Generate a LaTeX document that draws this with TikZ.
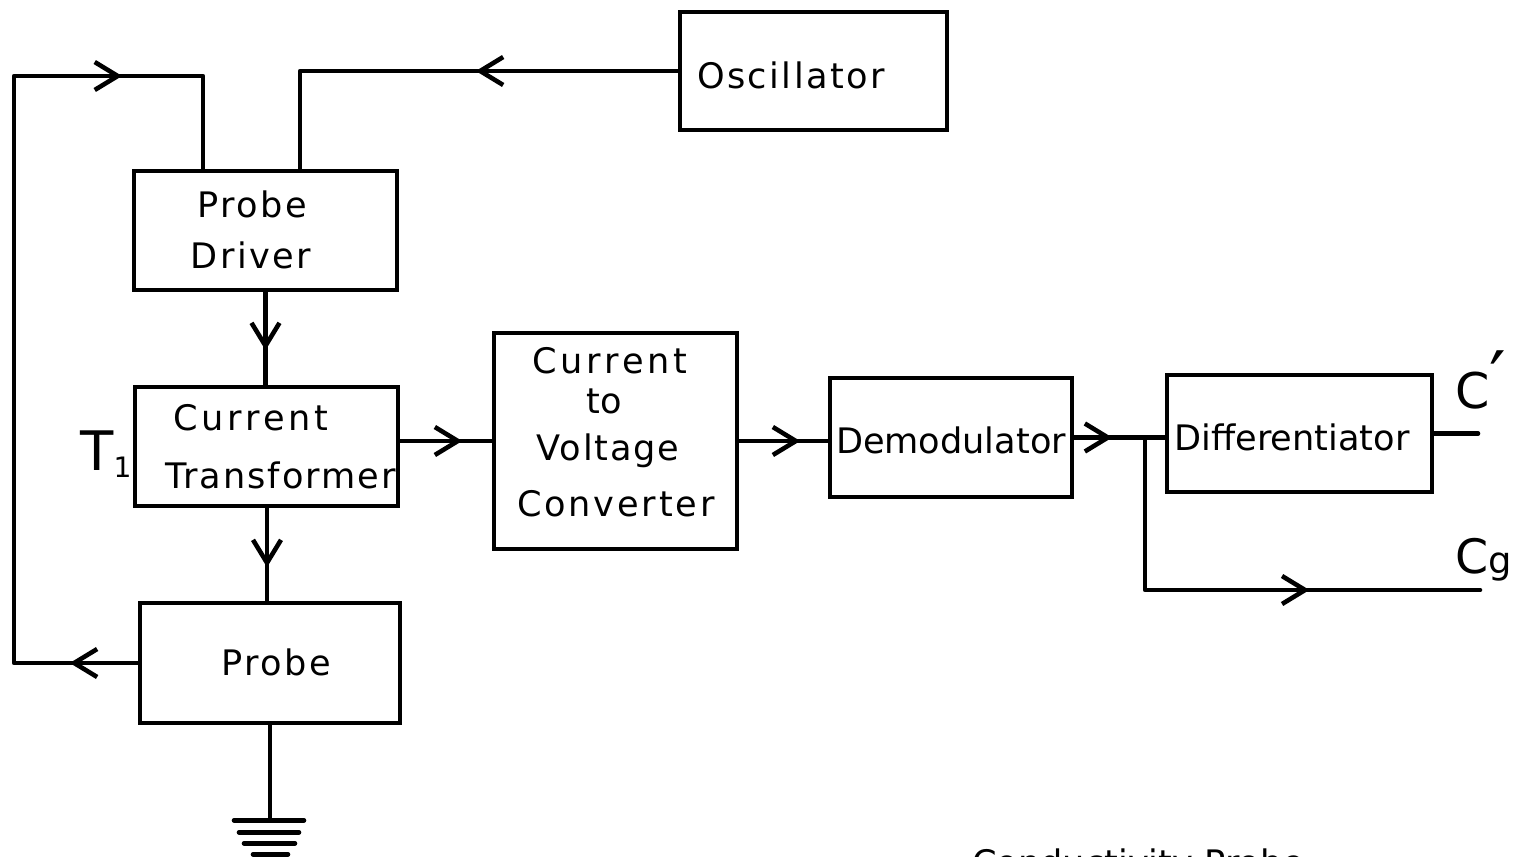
\documentclass[tikz,border=0pt]{standalone}
\usepackage{fontspec}
\setmainfont{DejaVu Sans}
\usetikzlibrary{arrows.meta,decorations.markings,calc}
\newcommand\ls[2]{{\addfontfeature{LetterSpace=#1}#2}}
\tikzset{
  box/.style={draw, line width=2.6pt, inner sep=0pt, rectangle},
  wire/.style={line width=2.6pt, line join=round, line cap=round},
  lbl/.style={inner sep=0pt, font=\fontsize{20}{24}\selectfont, anchor=base},
  chev/.tip={Straight Barb[length=4.6mm, width=5.6mm]},
  mk/.style={postaction={decorate, decoration={markings, mark=at position #1 with {\arrow{chev}}}}},
}
\begin{document}
\begin{tikzpicture}[x=0.02cm, y=-0.02cm]
\useasboundingbox (0,0) rectangle (1522,856);
\clip (0,0) rectangle (1522,856);
% boxes
\node[box, minimum width=5.34cm, minimum height=2.36cm] (osc) at (813.5,71) {};
\node[box, minimum width=5.26cm, minimum height=2.38cm] (pd) at (265.5,230.5) {};
\node[box, minimum width=5.26cm, minimum height=2.38cm] (ct) at (266.5,446.5) {};
\node[box, minimum width=5.20cm, minimum height=2.40cm] (probe) at (270,663) {};
\node[box, minimum width=4.86cm, minimum height=4.32cm] (ctov) at (615.5,441) {};
\node[box, minimum width=4.84cm, minimum height=2.38cm] (demod) at (951,437.5) {};
\node[box, minimum width=5.30cm, minimum height=2.34cm] (diff) at (1299.5,433.5) {};
% texts
\node[lbl] (osct) at (791,88) {\ls{7}{Oscillator}};
\node[lbl] (pdt1) at (252,217) {\ls{7}{Probe}};
\node[lbl] (pdt2) at (251,268) {\ls{7}{Driver}};
\node[lbl, anchor=base west] (ctt1) at (173,430) {\ls{11}{Current}};
\node[lbl, anchor=base west] (ctt2) at (165,488) {\ls{5.5}{Transformer}};
\node[lbl] (cvt1) at (610,373) {\ls{11}{Current}};
\node[lbl] (cvt2) at (604,413) {\ls{2}{to}};
\node[lbl] (cvt3) at (608,460) {\ls{5}{Voltage}};
\node[lbl] (cvt4) at (616,516) {\ls{8}{Converter}};
\node[lbl] (dmt) at (951,453) {Demodulator};
\node[lbl] (dft) at (1292,450) {Differentiator};
\node[lbl] (prt) at (276,675) {\ls{7}{Probe}};
\node[lbl, anchor=base west, font=\fontsize{31}{31}\selectfont] (t1) at (80,470) {T\raisebox{-4pt}{\fontsize{16}{16}\selectfont 1}};
\node[lbl, anchor=base west, font=\fontsize{28}{28}\selectfont] (cpl) at (1455,408) {C\raisebox{2pt}{\fontsize{42}{42}\selectfont ′}};
\node[lbl, anchor=base west, font=\fontsize{27}{27}\selectfont] (cgl) at (1455,573) {C{\fontsize{21}{21}\selectfont g}};
\node[lbl, anchor=base west] (title) at (972,875) {Conductivity Probe};
% connectors
\coordinate (lt) at (14,76);
\coordinate (jn) at (1145,437.5);
\coordinate (cgo) at (1480,590);
\coordinate (cpo) at (1478,433.5);
\coordinate (pdo) at ($(pd.north)+(34.5,0)$);
\coordinate (pdi) at ($(pd.north)+(-62.5,0)$);
\coordinate (cts) at ($(ct.south)+(0.5,0)$);
\draw[wire, mk=4.04cm] (osc.west) -| (pdo);
\draw[wire, postaction={decorate, decoration={markings,
   mark=at position 1.36cm with {\arrow{chev}},
   mark=at position 16.38cm with {\arrow{chev}}}}]
   (probe.west) -| (lt) -| (pdi);
\draw[wire, mk=1.16cm] (pd.south) -- (pd.south |- ct.north);
\draw[wire, mk=1.18cm] (cts) -- (cts |- probe.north);
\draw[wire, mk=1.24cm] (ctov.west -| ct.east) -- (ctov.west);
\draw[wire, mk=1.22cm] (ctov.east) -- (ctov.east -| demod.west);
\draw[wire, mk=0.76cm] (demod.east) -- (demod.east -| diff.west);
\draw[wire, mk=6.34cm] (jn) |- (cgo);
\draw[wire] (diff.east) -- (cpo);
% ground
\draw[wire] (probe.south) -- ++(0,95) coordinate (gnd);
\draw[wire] ($(gnd)+(-36,0)$) -- ($(gnd)+(34,0)$);
\draw[wire] ($(gnd)+(-31,12)$) -- ($(gnd)+(29,12)$);
\draw[wire] ($(gnd)+(-26,23)$) -- ($(gnd)+(25,23)$);
\draw[wire] ($(gnd)+(-17,34)$) -- ($(gnd)+(18,34)$);
\end{tikzpicture}
\end{document}
